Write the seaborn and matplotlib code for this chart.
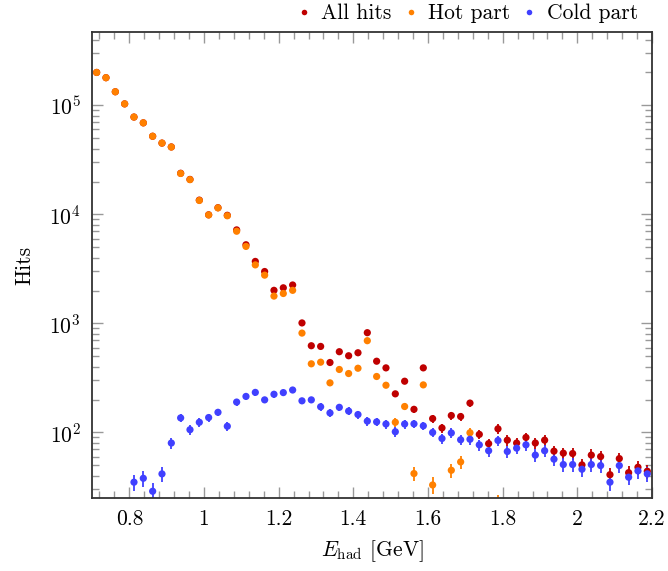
import numpy as np
import pandas as pd
import matplotlib
matplotlib.use("Agg")
import matplotlib.pyplot as plt
import seaborn as sns
from matplotlib.lines import Line2D
from matplotlib.ticker import MultipleLocator, FuncFormatter, LogLocator, LogFormatterMathtext, NullFormatter

nan = np.nan

# bin centres of E_had [GeV]
e_had = [0.7125, 0.7375, 0.7625, 0.7875, 0.8125, 0.8375, 0.8625, 0.8875, 0.9125, 0.9375,
         0.9625, 0.9875, 1.0125, 1.0375, 1.0625, 1.0875, 1.1125, 1.1375, 1.1625, 1.1875,
         1.2125, 1.2375, 1.2625, 1.2875, 1.3125, 1.3375, 1.3625, 1.3875, 1.4125, 1.4375,
         1.4625, 1.4875, 1.5125, 1.5375, 1.5625, 1.5875, 1.6125, 1.6375, 1.6625, 1.6875,
         1.7125, 1.7375, 1.7625, 1.7875, 1.8125, 1.8375, 1.8625, 1.8875, 1.9125, 1.9375,
         1.9625, 1.9875, 2.0125, 2.0375, 2.0625, 2.0875, 2.1125, 2.1375, 2.1625, 2.1875]

all_hits = [2.0e5, 1.79e5, 1.33e5, 1.03e5, 7.8e4, 6.9e4, 5.2e4, 4.5e4, 4.15e4, 2.38e4,
            2.09e4, 1.35e4, 9.9e3, 1.15e4, 9.8e3, 7.2e3, 5.26e3, 3.70e3, 2.99e3, 2.01e3,
            2.12e3, 2.25e3, 1010, 624, 615, 438, 550, 505, 538, 822,
            450, 391, 226, 295, 163, 391, 134, 110, 143, 140,
            186, 96, 79, 108, 85, 80, 90, 80, 85, 67.4,
            64.6, 64.1, 50.4, 62, 60.1, 41, 57.6, 42.8, 48, 44.1]

hot_part = [2.0e5, 1.79e5, 1.33e5, 1.03e5, 7.8e4, 6.9e4, 5.2e4, 4.5e4, 4.14e4, 2.37e4,
            2.08e4, 1.34e4, 9.87e3, 1.146e4, 9.7e3, 7.0e3, 5.08e3, 3.44e3, 2.77e3, 1.78e3,
            1.88e3, 2.01e3, 815, 426, 441, 285, 378, 347, 388, 694,
            326, 271, 124, 173, 42, 273, 33, 21, 45, 53.7,
            99.4, nan, nan, 22, nan, nan, nan, nan, nan, nan,
            nan, nan, nan, nan, nan, nan, nan, nan, nan, nan]

cold_part = [nan, nan, nan, nan, 35, 38, 28.9, 41.7, 80, 136,
             106, 124, 137, 153, 114, 190, 214, 233, 199, 224,
             232, 245, 195, 199, 172, 151, 170, 157, 146, 127,
             125, 119.5, 101.5, 119.5, 120, 115, 100, 88, 99, 85.7,
             86.6, 77, 68, 84.4, 66.9, 71.8, 77, 62, 68, 56.9,
             50.8, 50.8, 46, 50.8, 49.7, 35, 49.7, 38.9, 44.4, 41.7]

names = ["All hits", "Hot part", "Cold part"]
colors = {"All hits": "#bf0000", "Hot part": "#ff8000", "Cold part": "#4040ff"}

frames = []
for name, vals in zip(names, [all_hits, hot_part, cold_part]):
    frames.append(pd.DataFrame({"E": e_had, "hits": vals, "part": name}))
df = pd.concat(frames, ignore_index=True)
df["err"] = np.sqrt(df["hits"])

sns.set_style("ticks")
plt.rcParams["font.family"] = "serif"
plt.rcParams["font.serif"] = ["cmr10"]
plt.rcParams["mathtext.fontset"] = "cm"
plt.rcParams["axes.formatter.use_mathtext"] = True
plt.rcParams["text.color"] = "black"
plt.rcParams["axes.labelcolor"] = "black"

fig = plt.figure(figsize=(6.68, 5.71), dpi=100)
ax = fig.add_axes([0.1377, 0.1273, 0.8383, 0.8167])

# error bars
for name in names:
    d = df[(df["part"] == name) & df["hits"].notna()]
    ax.errorbar(d["E"], d["hits"], yerr=d["err"], fmt="none", ecolor=colors[name],
                elinewidth=1.3, capsize=0, zorder=1)

sns.scatterplot(data=df.dropna(subset=["hits"]), x="E", y="hits", hue="part", palette=colors,
                s=27, linewidth=0, legend=False, ax=ax, zorder=2)

ax.set_yscale("log")
ax.set_xlim(0.7, 2.2)
ax.set_ylim(24.9, 4.7e5)

ax.xaxis.set_major_locator(MultipleLocator(0.2))
ax.xaxis.set_minor_locator(MultipleLocator(0.04))
ax.xaxis.set_major_formatter(FuncFormatter(lambda v, p: f"{v:g}"))
ax.yaxis.set_major_locator(LogLocator(base=10))
ax.yaxis.set_minor_locator(LogLocator(base=10, subs=np.arange(2, 10)))
ax.yaxis.set_major_formatter(LogFormatterMathtext())
ax.yaxis.set_minor_formatter(NullFormatter())

ax.tick_params(which="both", direction="in", top=True, right=True, color="#999999",
               labelcolor="black", width=1.0, labelsize=15.5, pad=8)
ax.tick_params(which="major", length=8)
ax.tick_params(which="minor", length=5)
for sp in ax.spines.values():
    sp.set_color("#333333")
    sp.set_linewidth(1.3)

ax.set_xlabel(r"$E_{\mathrm{had}}$ [GeV]", fontsize=15.5, labelpad=7)
ax.set_ylabel("Hits", fontsize=15.5, labelpad=11)

handles = [Line2D([], [], marker="o", linestyle="none", color=colors[n], markersize=4,
                  markeredgewidth=0) for n in names]
ax.legend(handles, names, loc="lower right", bbox_to_anchor=(0.975, 1.019), ncol=3,
          frameon=False, fontsize=15.5, handlelength=0.6, handletextpad=0.5,
          columnspacing=0.6, borderaxespad=0.0, borderpad=0.0)

fig.savefig("out.png", dpi=100)
